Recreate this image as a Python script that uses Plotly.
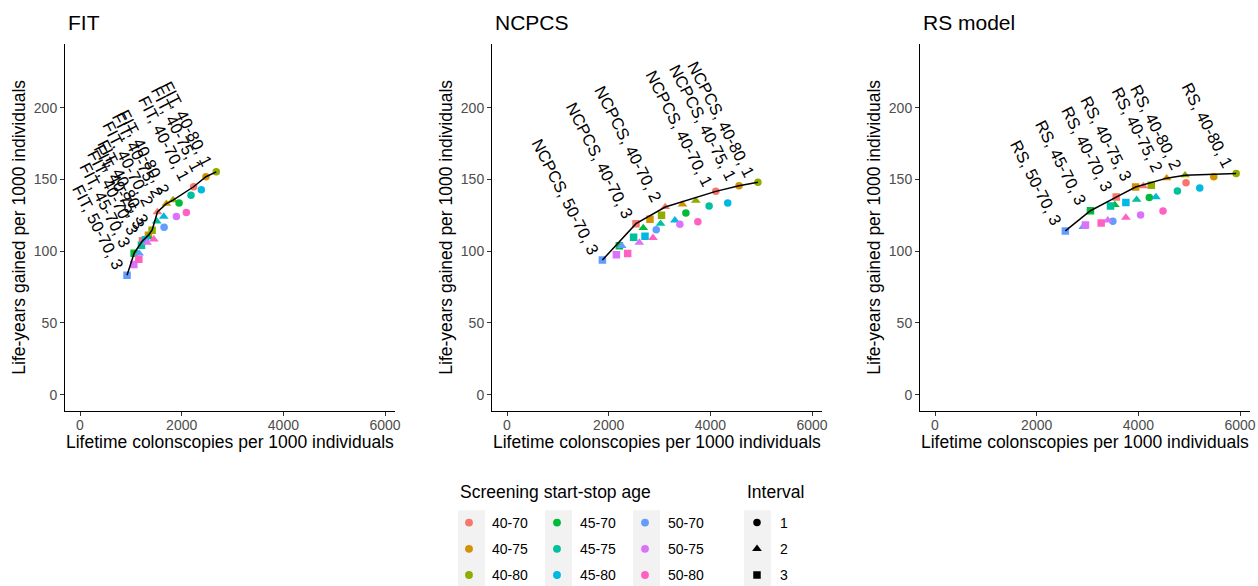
import plotly.graph_objects as go

W, H = 1258, 591          # layout size
PAGE_H = 586              # vertical reference frame for paper positions
FONT = "Liberation Sans, Arial, sans-serif"

# ---------------- data ----------------
AGES = ["40-70", "40-75", "40-80", "45-70", "45-75", "45-80", "50-70", "50-75", "50-80"]
COLORS = ["#F8766D", "#D39200", "#93AA00", "#00BA38", "#00C19F",
          "#00B9E3", "#619CFF", "#DB72FB", "#FF61C3"]
INTERVALS = [1, 2, 3]
MODELS = ["FIT", "NCPCS", "RS"]
PANEL_TITLES = ["FIT", "NCPCS", "RS model"]
X_TICKS = [0, 2000, 4000, 6000]
Y_TICKS = [0, 50, 100, 150, 200]
X_TITLE = "Lifetime colonscopies per 1000 individuals"
Y_TITLE = "Life-years gained per 1000 individuals"

# FIT: lifetime colonoscopies / life-years gained, per age range (order of AGES)
fit_col_1 = [2235, 2477, 2680, 1948, 2183, 2386, 1654, 1895, 2092]
fit_lyg_1 = [144.9, 151.9, 155.3, 133.6, 138.9, 142.8, 116.7, 124.1, 126.9]
fit_col_2 = [1523, 1699, 1830, 1340, 1510, 1647, 1163, 1320, 1451]
fit_lyg_2 = [127.3, 133.1, 135.6, 109.8, 120.8, 124.1, 98.4, 106.0, 108.3]
fit_col_3 = [1229, 1346, 1418, 1065, 1209, 1288, 925, 1059, 1157]
fit_lyg_3 = [107.2, 111.1, 114.6, 98.6, 104.2, 107.9, 83.3, 90.7, 94.4]

# NCPCS
ncpcs_col_1 = [4106, 4563, 4935, 3518, 3975, 4341, 2935, 3400, 3753]
ncpcs_lyg_1 = [141.7, 145.6, 148.1, 126.6, 131.5, 133.5, 115.0, 118.8, 120.6]
ncpcs_col_2 = [3112, 3451, 3714, 2680, 3020, 3302, 2255, 2602, 2871]
ncpcs_lyg_2 = [130.8, 132.6, 135.2, 116.2, 119.2, 121.5, 103.7, 106.0, 109.3]
ncpcs_col_3 = [2537, 2812, 3039, 2210, 2490, 2714, 1876, 2151, 2373]
ncpcs_lyg_3 = [119.2, 122.2, 125.0, 103.7, 109.7, 110.4, 93.8, 97.5, 98.4]

# RS model
rs_col_1 = [4937, 5483, 5923, 4215, 4767, 5207, 3498, 4043, 4484]
rs_lyg_1 = [147.7, 151.8, 154.2, 137.5, 141.9, 144.0, 120.8, 125.2, 128.0]
rs_col_2 = [4097, 4556, 4917, 3537, 3965, 4346, 2915, 3399, 3754]
rs_lyg_2 = [145.4, 150.9, 153.0, 132.2, 135.9, 137.7, 117.0, 121.5, 123.4]
rs_col_3 = [3564, 3945, 4254, 3057, 3452, 3754, 2564, 2959, 3268]
rs_lyg_3 = [137.7, 144.7, 146.0, 128.2, 131.5, 134.0, 114.1, 118.3, 119.7]

# efficient strategies (age range, interval)
fit_frontier = [("50-70", 3), ("45-70", 3), ("40-70", 3), ("40-75", 3), ("40-80", 3),
                ("40-70", 2), ("40-75", 2), ("40-80", 2), ("40-70", 1), ("40-75", 1),
                ("40-80", 1)]
ncpcs_frontier = [("50-70", 3), ("40-70", 3), ("40-70", 2), ("40-70", 1), ("40-75", 1),
                  ("40-80", 1)]
rs_frontier = [("50-70", 3), ("45-70", 3), ("40-70", 3), ("40-75", 3), ("40-75", 2),
               ("40-80", 2), ("40-80", 1)]

DATA = {
    "FIT": {1: (fit_col_1, fit_lyg_1), 2: (fit_col_2, fit_lyg_2), 3: (fit_col_3, fit_lyg_3)},
    "NCPCS": {1: (ncpcs_col_1, ncpcs_lyg_1), 2: (ncpcs_col_2, ncpcs_lyg_2),
              3: (ncpcs_col_3, ncpcs_lyg_3)},
    "RS": {1: (rs_col_1, rs_lyg_1), 2: (rs_col_2, rs_lyg_2), 3: (rs_col_3, rs_lyg_3)},
}
FRONTIERS = {"FIT": fit_frontier, "NCPCS": ncpcs_frontier, "RS": rs_frontier}

# ---------------- style ----------------
SYMBOLS = {1: "circle", 2: "triangle-up", 3: "square"}
SIZES = {1: 7.5, 2: 8.5, 3: 7.5}
LEGEND_OF_AGE = {"40": "legend", "45": "legend2", "50": "legend3"}


def fx(px):
    return px / W


def fy(py):
    return 1 - py / PAGE_H


X_DOMAINS_PX = [(65, 395), (492, 822), (920, 1250)]
Y_DOMAIN = [fy(412), fy(44)]
X_RANGE = [-295, 6195]
Y_RANGE = [-11.1, 244.5]

fig = go.Figure()

for p, model in enumerate(MODELS):
    sfx = "" if p == 0 else str(p + 1)
    xr, yr = "x" + sfx, "y" + sfx
    for a, age in enumerate(AGES):
        xs = [DATA[model][iv][0][a] for iv in INTERVALS]
        ys = [DATA[model][iv][1][a] for iv in INTERVALS]
        fig.add_trace(go.Scatter(
            x=xs, y=ys, mode="markers", xaxis=xr, yaxis=yr,
            marker=dict(color=COLORS[a], symbol=[SYMBOLS[i] for i in INTERVALS],
                        size=[SIZES[i] for i in INTERVALS], opacity=1, line=dict(width=0)),
            name=age, legend=LEGEND_OF_AGE[age[:2]], legendgroup=age,
            showlegend=(p == 0), hoverinfo="skip"))
    pts = []
    for age, iv in FRONTIERS[model]:
        a = AGES.index(age)
        pts.append((DATA[model][iv][0][a], DATA[model][iv][1][a], f"{model}, {age}, {iv}"))
    pts.sort(key=lambda t: t[0])
    fig.add_trace(go.Scatter(
        x=[t[0] for t in pts], y=[t[1] for t in pts], mode="lines", xaxis=xr, yaxis=yr,
        line=dict(color="black", width=1.5), showlegend=False, hoverinfo="skip"))
    for px_, py_, txt in pts:
        fig.add_annotation(x=px_, y=py_, xref=xr, yref=yr, text=txt, showarrow=False,
                           textangle=63, xanchor="right", yanchor="bottom",
                           xshift=3, yshift=0,
                           font=dict(family=FONT, size=16.5, color="black"))
    left, right = X_DOMAINS_PX[p]
    # panel title
    fig.add_annotation(x=fx(left + 1), y=fy(23), xref="paper", yref="paper",
                       text=PANEL_TITLES[p], showarrow=False, xanchor="left", yanchor="middle",
                       font=dict(family=FONT, size=21, color="black"))
    # axis titles
    fig.add_annotation(x=fx((left + right) / 2), y=fy(444), xref="paper", yref="paper",
                       text=X_TITLE, showarrow=False, xanchor="center", yanchor="middle",
                       font=dict(family=FONT, size=17.5, color="black"))
    fig.add_annotation(x=fx(left - 45.5), y=fy(228), xref="paper", yref="paper",
                       text=Y_TITLE, showarrow=False, xanchor="center", yanchor="middle",
                       textangle=-90, font=dict(family=FONT, size=17.5, color="black"))

    axis_common = dict(showline=True, linecolor="black", linewidth=1, ticks="outside",
                       ticklen=4, tickwidth=1, tickcolor="#333333", showgrid=False,
                       zeroline=False, tickfont=dict(family=FONT, size=14, color="#4D4D4D"),
                       automargin=False)
    fig.update_layout(**{
        "xaxis" + sfx: dict(axis_common, domain=[fx(left), fx(right)],
                            range=X_RANGE, tickvals=X_TICKS, anchor=yr,
                            ticklabelstandoff=-2),
        "yaxis" + sfx: dict(axis_common, domain=Y_DOMAIN, range=Y_RANGE, tickvals=Y_TICKS,
                            anchor=xr),
    })

# interval legend entries (shape key)
for iv in INTERVALS:
    fig.add_trace(go.Scatter(x=[None], y=[None], mode="markers",
                             marker=dict(color="black", symbol=SYMBOLS[iv], size=SIZES[iv]),
                             name=str(iv), legend="legend4", legendgroup="iv" + str(iv),
                             showlegend=True, hoverinfo="skip"))

# legend key backgrounds
for x0 in [458, 545, 633, 744]:
    fig.add_shape(type="rect", xref="paper", yref="paper", x0=fx(x0), x1=fx(x0 + 27),
                  y0=fy(605), y1=fy(512), fillcolor="#F2F2F2", line_width=0,
                  layer="below")

fig.add_annotation(x=fx(458), y=fy(494), xref="paper", yref="paper",
                   text="Screening start-stop age", showarrow=False, xanchor="left",
                   yanchor="middle", font=dict(family=FONT, size=17.5, color="black"))
fig.add_annotation(x=fx(745), y=fy(494), xref="paper", yref="paper",
                   text="Interval", showarrow=False, xanchor="left",
                   yanchor="middle", font=dict(family=FONT, size=17.5, color="black"))

leg_common = dict(orientation="v", xanchor="left", yanchor="top", bgcolor="rgba(0,0,0,0)",
                  borderwidth=0, itemwidth=36, tracegroupgap=5, maxheight=1,
                  font=dict(family=FONT, size=14, color="black"))
LEG_TOP = fy(509)
fig.update_layout(
    legend=dict(leg_common, x=fx(469 - 23), y=LEG_TOP),
    legend2=dict(leg_common, x=fx(557 - 23), y=LEG_TOP),
    legend3=dict(leg_common, x=fx(645 - 23), y=LEG_TOP),
    legend4=dict(leg_common, x=fx(757 - 23), y=LEG_TOP),
    width=W, height=H, margin=dict(l=0, r=0, t=0, b=0),
    paper_bgcolor="white", plot_bgcolor="white",
    font=dict(family=FONT, color="black"),
)

fig.write_html("out.html", config={"displayModeBar": False},
               post_script="document.body.style.margin='0px';"
                           "document.body.style.overflow='hidden';")
